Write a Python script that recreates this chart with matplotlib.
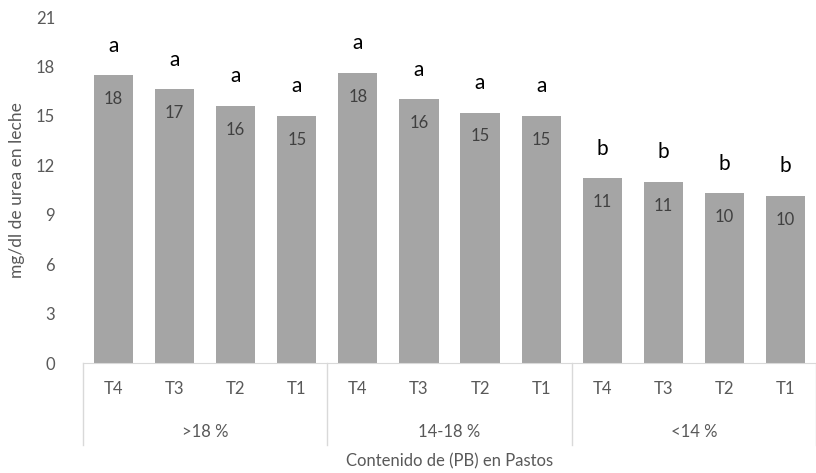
import matplotlib.pyplot as plt
from matplotlib import transforms

plt.rcParams['font.family'] = ['Lato', 'DejaVu Sans']

# Data
grupos = ['>18 %', '14-18 %', '<14 %']
tratamientos = ['T4', 'T3', 'T2', 'T1']
urea = [17.45, 16.6, 15.6, 15.0,
        17.6, 16.0, 15.2, 15.0,
        11.2, 11.0, 10.3, 10.15]
etiquetas = ['18', '17', '16', '15',
             '18', '16', '15', '15',
             '11', '11', '10', '10']
letras = ['a', 'a', 'a', 'a',
          'a', 'a', 'a', 'a',
          'b', 'b', 'b', 'b']

fig = plt.figure(figsize=(8.16, 4.73), dpi=100)
ax = fig.add_axes([83 / 816, 1 - 363 / 473, 733 / 816, 346 / 473])

x = list(range(len(urea)))
ax.bar(x, urea, width=0.64, color='#A5A5A5')

ax.set_xlim(-0.5, len(urea) - 0.5)
ax.set_ylim(0, 21)
ax.set_yticks(range(0, 22, 3))

gris = '#595959'
ax.tick_params(axis='y', length=0, labelsize=12, labelcolor=gris, pad=20)
ax.set_xticks(x)
ax.set_xticklabels(tratamientos * len(grupos))
ax.tick_params(axis='x', length=0, labelsize=12, labelcolor=gris, pad=13)

for s in ['top', 'right', 'left']:
    ax.spines[s].set_visible(False)
ax.spines['bottom'].set_color('#D9D9D9')

# values inside bars and letters above
for xi, v, lab, let in zip(x, urea, etiquetas, letras):
    ax.text(xi, v - 1.45, lab, ha='center', va='center', fontsize=12, color='#404040')
    ax.text(xi, v + 1.8, let, ha='center', va='center', fontsize=15, color='black')

# group separators and group labels
trans = transforms.blended_transform_factory(ax.transData, ax.transAxes)
n = len(tratamientos)
for i in range(len(grupos) + 1):
    xs = i * n - 0.5
    ax.plot([xs, xs], [0, -0.237], color='#D9D9D9', lw=1, transform=trans, clip_on=False)
for i, g in enumerate(grupos):
    ax.text(i * n + (n - 1) / 2, -0.2, g, transform=trans, ha='center', va='center',
            fontsize=12, color=gris)

ax.text(0.5, -0.285, 'Contenido de (PB) en Pastos', transform=ax.transAxes,
        ha='center', va='center', fontsize=12, color=gris)
ax.set_ylabel('mg/dl de urea en leche', fontsize=12.5, color=gris, labelpad=8)

fig.savefig('out.png', dpi=100)
